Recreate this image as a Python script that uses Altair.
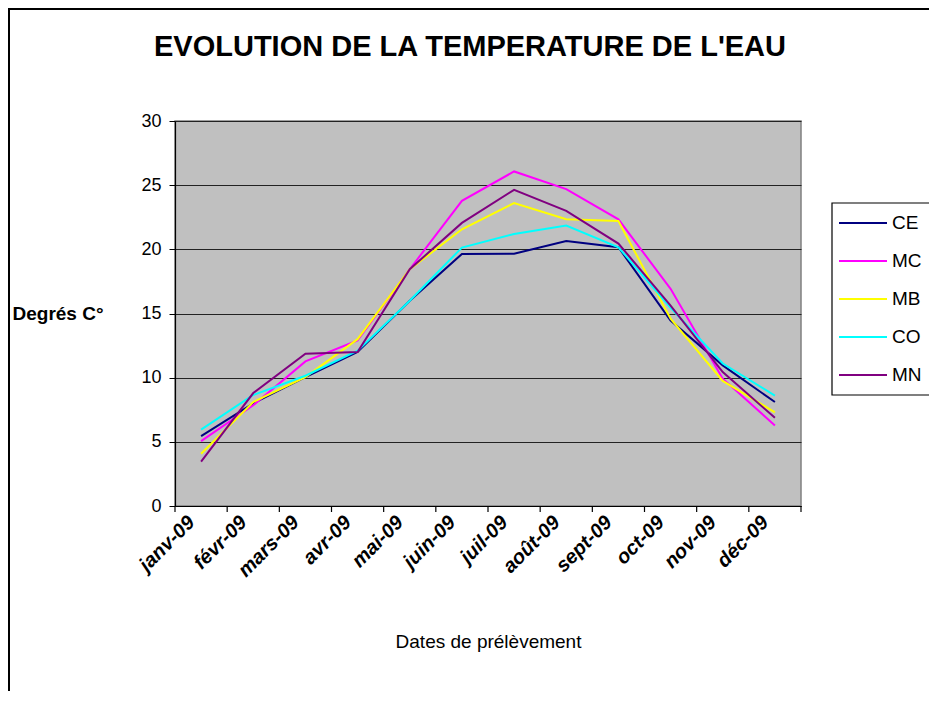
import json
import altair as alt
import pandas as pd

# ---------------- data ----------------
months = ["janv-09", "févr-09", "mars-09", "avr-09", "mai-09", "juin-09",
          "juil-09", "août-09", "sept-09", "oct-09", "nov-09", "déc-09"]
series = ["CE", "MC", "MB", "CO", "MN"]
colors = ["#000080", "#FF00FF", "#FFFF00", "#00FFFF", "#800080"]

CE = [5.45, 8.0, 10.05, 12.0, 16.0, 19.64, 19.65, 20.65, 20.16, 14.45, 10.96, 8.1]
MC = [5.05, 7.85, 11.27, 12.9, 18.45, 23.78, 26.07, 24.69, 22.34, 16.92, 9.92, 6.28]
MB = [4.07, 8.1, 10.05, 13.0, 18.45, 21.56, 23.6, 22.34, 22.2, 14.6, 9.75, 7.3]
CO = [5.95, 8.65, 10.15, 12.1, 16.0, 20.14, 21.2, 21.85, 20.16, 15.45, 11.1, 8.6]
MN = [3.45, 8.8, 11.87, 12.0, 18.45, 22.06, 24.64, 23.0, 20.45, 15.62, 10.44, 6.87]

title_text = "EVOLUTION DE LA TEMPERATURE DE L'EAU"
y_title = "Degrés C°"
x_title = "Dates de prélèvement"
y_ticks = [0, 5, 10, 15, 20, 25, 30]

# ---------------- build tables ----------------
vals = {"CE": CE, "MC": MC, "MB": MB, "CO": CO, "MN": MN}
rows = []
for s in series:
    for i, m in enumerate(months):
        rows.append({"serie": s, "idx": i, "mois": m, "temp": vals[s][i]})
df = pd.DataFrame(rows)
df_bounds = pd.DataFrame({"b": list(range(len(months) + 1))})
df_leg = pd.DataFrame({"serie": series, "rank": list(range(len(series)))})
df_one = pd.DataFrame({"t": [title_text]})

W, H = 626, 385
FONT = "Liberation Sans"

label_expr = "%s[floor(datum.value)]" % json.dumps(months, ensure_ascii=False)

xscale = alt.Scale(domain=[0, len(months)], nice=False, zero=False)
xaxis = alt.Axis(
    values=[i + 0.5 for i in range(len(months))],
    labelExpr=label_expr,
    labelOverlap=False,
    ticks=False,
    grid=False,
    domainColor="black",
    domainWidth=1.2,
    labelAngle=-45,
    labelAlign="right",
    labelBaseline="middle",
    labelPadding=13,
    labelOffset=-10,
    labelFont=FONT,
    labelFontSize=20,
    labelFontWeight="bold",
    labelFontStyle="italic",
    labelColor="black",
    title=x_title,
    titleFont=FONT,
    titleFontSize=19,
    titleFontWeight="normal",
    titleColor="black",
    titleX=W / 2,
    titleY=135,
    titleBaseline="middle",
    titleAnchor="middle",
)
yscale = alt.Scale(domain=[0, 30], nice=False, zero=True)
yaxis = alt.Axis(
    values=y_ticks,
    grid=True,
    gridColor="#222222",
    gridWidth=1.2,
    domainColor="black",
    domainWidth=1.2,
    tickColor="black",
    tickSize=6,
    labelPadding=8,
    labelFont=FONT,
    labelFontSize=18,
    labelColor="black",
    title=y_title,
    titleFont=FONT,
    titleFontSize=19,
    titleFontWeight="bold",
    titleColor="black",
    titleAngle=0,
    titleAlign="left",
    titleBaseline="middle",
    titleX=-163,
    titleY=H / 2,
)

cscale = alt.Scale(domain=series, range=colors)

lines = alt.Chart(df).transform_calculate(
    pos="datum.idx + 0.5"
).mark_line(strokeWidth=2).encode(
    x=alt.X("pos:Q", scale=xscale, axis=xaxis),
    y=alt.Y("temp:Q", scale=yscale, axis=yaxis),
    color=alt.Color("serie:N", scale=cscale, legend=None),
    order=alt.Order("idx:Q"),
    detail="serie:N",
)

ticks = alt.Chart(df_bounds).transform_calculate(
    pos="datum.b"
).mark_rule(color="black", strokeWidth=1.2).encode(
    x=alt.X("pos:Q", scale=xscale, axis=xaxis),
    y=alt.value(H),
    y2=alt.value(H + 6),
)

title = alt.Chart(df_one).mark_text(
    font=FONT, fontSize=29, fontWeight="bold", color="black",
    align="center", baseline="alphabetic"
).encode(text="t:N", x=alt.value(295), y=alt.value(-65))

border = alt.Chart(df_one).mark_rect(
    fillOpacity=0, stroke="black", strokeWidth=2
).encode(x=alt.value(-166), x2=alt.value(W + 300), y=alt.value(-112), y2=alt.value(H + 300))

LX = 657
leg_box = alt.Chart(df_one).mark_rect(
    fill="white", stroke="black", strokeWidth=1.2
).encode(x=alt.value(LX), x2=alt.value(W + 300), y=alt.value(82), y2=alt.value(274))

leg_base = alt.Chart(df_leg).transform_calculate(ly="102 + datum.rank * 38")

leg_sym = leg_base.mark_rule(strokeWidth=2).encode(
    x=alt.value(LX + 7), x2=alt.value(LX + 55),
    y=alt.Y("ly:Q", scale=None, axis=None),
    color=alt.Color("serie:N", scale=cscale, legend=None),
)
leg_txt = leg_base.mark_text(
    font=FONT, fontSize=19, color="black", align="left", baseline="middle"
).encode(
    x=alt.value(LX + 60),
    y=alt.Y("ly:Q", scale=None, axis=None),
    text="serie:N",
)

chart = alt.layer(
    lines, ticks, title, border, leg_box, leg_sym, leg_txt
).properties(
    width=W, height=H,
    autosize=alt.AutoSizeParams(type="none"),
    padding={"left": 167, "top": 113, "right": 128, "bottom": 185},
    background="white",
).configure_view(
    fill="#C0C0C0", stroke="#808080", strokeWidth=1.5
)

chart.save("out.html", embed_options={"renderer": "svg", "actions": False})
